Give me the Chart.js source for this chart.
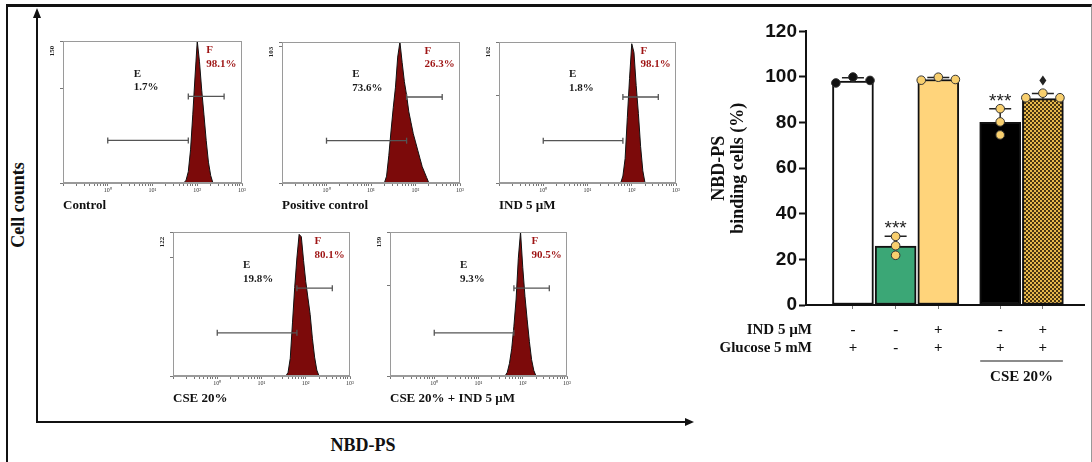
<!DOCTYPE html>
<html>
<head>
<meta charset="utf-8">
<script src="https://cdn.jsdelivr.net/npm/chart.js@4.4.0/dist/chart.umd.min.js"></script>
<style>
  body { margin: 0; width: 1092px; height: 462px; position: relative; overflow: hidden; background: #fff; }
  .frame { position: absolute; left: 6px; top: 4px; width: 1083px; height: 480px;
           border-top: 3px solid #111; border-left: 2px solid #111; border-right: 1px solid #999; }
  canvas { position: absolute; }
  svg { position: absolute; left: 0; top: 0; }
</style>
</head>
<body>
<div class="frame"></div>
<svg width="1092" height="462">
  <line x1="37" y1="423" x2="37" y2="16" stroke="#111" stroke-width="2"/>
  <polygon points="33,18 41,18 37,8" fill="#111"/>
  <line x1="36" y1="422" x2="686" y2="422" stroke="#111" stroke-width="2"/>
  <polygon points="685,418 685,426 694,422" fill="#111"/>
  <text x="18" y="205" transform="rotate(-90 18 205)" text-anchor="middle" dominant-baseline="central"
        font-family="Liberation Serif" font-weight="bold" font-size="18" fill="#111">Cell counts</text>
  <text x="363" y="445" text-anchor="middle" dominant-baseline="central"
        font-family="Liberation Serif" font-weight="bold" font-size="18" fill="#111">NBD-PS</text>
</svg>
<script>
// ---- flow cytometry histograms (x = log10 fluorescence) ----
const binLog = [1.25, 1.30, 1.35, 1.40, 1.45, 1.50, 1.55, 1.60, 1.65, 1.70, 1.75, 1.80,
                1.85, 1.90, 1.95, 2.00, 2.05, 2.10, 2.15, 2.20, 2.25, 2.30, 2.35, 2.40];
const ctrlCount   = [0, 0, 0, 0, 0, 0, 0, 0, 0, 0, 3, 12, 35, 72, 112, 150, 128, 98, 72, 45, 22, 8, 0, 0];
const posCount    = [0, 0, 5, 20, 38, 55, 70, 92, 103, 88, 74, 64, 52, 44, 36, 30, 24, 18, 12, 8, 4, 0, 0, 0];
const indCount    = [0, 0, 0, 0, 0, 0, 0, 0, 0, 0, 0, 8, 28, 75, 120, 160, 150, 112, 80, 42, 14, 0, 0, 0];
const cseCount    = [0, 0, 0, 0, 0, 0, 0, 3, 15, 45, 75, 100, 120, 118, 98, 80, 66, 52, 32, 16, 5, 0, 0, 0];
const cseIndCount = [0, 0, 0, 0, 0, 0, 0, 0, 4, 14, 30, 55, 85, 130, 159, 120, 88, 62, 38, 18, 6, 0, 0, 0];

const histLabels = ['Control', 'Positive control', 'IND 5 µM', 'CSE 20%', 'CSE 20% + IND 5 µM'];
const histMax = [150, 103, 162, 122, 159];
const ePct = ['1.7%', '73.6%', '1.8%', '19.8%', '9.3%'];
const fPct = ['98.1%', '26.3%', '98.1%', '80.1%', '90.5%'];
const gateE = [0, 1.8];
const gateF = [1.8, 2.6];
const decades = [0, 1, 2, 3];

// ---- bar chart ----
const barPos = [1, 2, 3, 4.45, 5.45];
const barMeans = [98.2, 25.8, 98.9, 80.1, 90.5];
const barErr = [1.5, 4.3, 0.9, 6.0, 2.3];
const barDots = [[97.4, 100.0, 98.5], [30.1, 26.0, 21.8], [98.6, 99.9, 98.9], [86.1, 80.3, 74.6], [90.9, 92.9, 90.9]];
const indRow = ['-', '-', '+', '-', '+'];
const gluRow = ['+', '-', '+', '+', '+'];
const sigMarks = ['', '***', '', '***', 'diamond'];
const yTickVals = [0, 20, 40, 60, 80, 100, 120];

const SERIF = '"Liberation Serif", "Times New Roman", serif';
const SANS = '"Liberation Sans", Arial, sans-serif';

// histogram panel boxes (plot area: left, top, width, height)
const boxes = [[63, 41, 179, 142], [282, 42, 178, 141], [499, 42, 177, 141], [173, 232, 177, 144], [390, 232, 177, 144]];
const countSets = [ctrlCount, posCount, indCount, cseCount, cseIndCount];

const supDigits = ['⁰', '¹', '²', '³'];
const logTicks = [];
for (let d = -1; d < 3; d++) {
    for (let k = 1; k < 10; k++) logTicks.push(d + Math.log10(k));
}
logTicks.push(3);

const histDeco = {
    id: 'histDeco',
    afterDraw(chart, args, o) {
        const { ctx, chartArea: a, scales: { x, y } } = chart;
        ctx.save();
        ctx.strokeStyle = '#9a9a9a';
        ctx.lineWidth = 1;
        ctx.strokeRect(a.left + 0.5, a.top + 0.5, a.right - a.left - 1, a.bottom - a.top - 1);

        // max count label, rotated
        ctx.save();
        ctx.translate(a.left - 11, a.top + 10);
        ctx.rotate(-Math.PI / 2);
        ctx.font = 'bold 7px ' + SERIF;
        ctx.fillStyle = '#222';
        ctx.textAlign = 'center';
        ctx.textBaseline = 'middle';
        ctx.fillText(String(o.max), 0, 0);
        ctx.restore();

        ctx.font = 'bold 11px ' + SERIF;
        ctx.textAlign = 'left';
        ctx.textBaseline = 'middle';
        ctx.fillStyle = '#1a1a1a';
        const ex = x.getPixelForValue(0.58);
        ctx.fillText('E', ex, y.getPixelForValue(o.max * 0.77));
        ctx.fillText(o.e, ex, y.getPixelForValue(o.max * 0.675));
        ctx.fillStyle = '#9e1414';
        const fx = x.getPixelForValue(2.2);
        ctx.fillText('F', fx, y.getPixelForValue(o.max * 0.935));
        ctx.fillText(o.f, fx, y.getPixelForValue(o.max * 0.84));
        ctx.restore();
    }
};

function makeHist(i) {
    const [bx, by, bw, bh] = boxes[i];
    const padL = 22, padT = 6, padR = 8, padB = 30;
    const cv = document.createElement('canvas');
    cv.width = padL + bw + padR;
    cv.height = padT + bh + padB;
    cv.style.left = (bx - padL) + 'px';
    cv.style.top = (by - padT) + 'px';
    document.body.appendChild(cv);

    const max = histMax[i];
    const eY = max * 0.30, fY = max * 0.61;
    const gateStyle = {
        borderColor: '#555', borderWidth: 1.3, fill: false,
        pointStyle: 'line', pointRotation: 90, pointRadius: 3,
        pointBorderColor: '#555', pointBorderWidth: 1.3, order: 0
    };

    new Chart(cv, {
        type: 'line',
        data: {
            datasets: [
                {
                    data: binLog.map((v, j) => ({ x: v, y: countSets[i][j] })),
                    fill: 'origin', backgroundColor: '#7c0a0a', borderColor: '#111', borderWidth: 1,
                    pointRadius: 0, tension: 0, order: 1
                },
                { ...gateStyle, data: gateE.map(v => ({ x: v, y: eY })) },
                { ...gateStyle, data: gateF.map(v => ({ x: v, y: fY })) }
            ]
        },
        options: {
            responsive: false,
            animation: false,
            events: [],
            layout: { padding: { top: padT, right: padR, left: 0, bottom: 0 } },
            plugins: {
                legend: { display: false },
                tooltip: { enabled: false },
                histDeco: { max: max, e: ePct[i], f: fPct[i] }
            },
            scales: {
                x: {
                    type: 'linear', min: -1, max: 3,
                    afterFit(s) { s.height = padB; },
                    afterBuildTicks(s) { s.ticks = logTicks.map(v => ({ value: v })); },
                    ticks: {
                        autoSkip: false, maxRotation: 0, minRotation: 0, padding: 1,
                        color: '#333', font: { family: SERIF, size: 6 },
                        callback(v) {
                            const d = decades.find(k => Math.abs(k - v) < 1e-6);
                            return d === undefined ? '' : '10' + supDigits[d];
                        }
                    },
                    grid: { drawOnChartArea: false, tickLength: 3, color: '#777' },
                    border: { color: '#9a9a9a', width: 1 },
                    title: {
                        display: true, text: histLabels[i], align: 'start', padding: 0,
                        color: '#111', font: { family: SERIF, size: 13, weight: 'bold' }
                    }
                },
                y: {
                    min: 0, max: max,
                    afterFit(s) { s.width = padL; },
                    afterBuildTicks(s) { s.ticks = [0, 100, max].map(v => ({ value: v })); },
                    ticks: { display: false },
                    grid: { drawOnChartArea: false, tickLength: 3, color: '#777' },
                    border: { color: '#9a9a9a', width: 1 }
                }
            }
        },
        plugins: [histDeco]
    });
}

for (let i = 0; i < 5; i++) makeHist(i);

// ---- bar chart ----
function checkerPattern() {
    const p = document.createElement('canvas');
    p.width = 4; p.height = 4;
    const c = p.getContext('2d');
    c.fillStyle = '#e8b94c';
    c.fillRect(0, 0, 4, 4);
    c.fillStyle = '#4a3612';
    c.fillRect(0, 0, 2, 2);
    c.fillRect(2, 2, 2, 2);
    return document.createElement('canvas').getContext('2d').createPattern(p, 'repeat');
}

const barColors = ['#ffffff', '#3ba776', '#ffd47b', '#000000', checkerPattern()];
const dotJitter = [[-0.4, 0, 0.4], [0, 0, 0], [-0.4, 0, 0.4], [0, 0, 0], [-0.4, 0, 0.4]];

const dotData = [], dotFill = [];
barDots.forEach((vals, i) => {
    vals.forEach((v, j) => {
        dotData.push({ x: barPos[i] + dotJitter[i][j], y: v });
        dotFill.push(i === 0 ? '#111111' : '#f8cf6e');
    });
});

const barDeco = {
    id: 'barDeco',
    afterDatasetDraw(chart, args) {
        if (args.index !== 0) return;
        const { ctx, scales: { x, y } } = chart;
        ctx.save();
        ctx.strokeStyle = '#222';
        ctx.lineWidth = 1.5;
        barPos.forEach((p, i) => {
            const cx = x.getPixelForValue(p);
            const y0 = y.getPixelForValue(barMeans[i]);
            const y1 = y.getPixelForValue(barMeans[i] + barErr[i]);
            ctx.beginPath();
            ctx.moveTo(cx, y0);
            ctx.lineTo(cx, y1);
            ctx.moveTo(cx - 11, y1);
            ctx.lineTo(cx + 11, y1);
            ctx.stroke();
        });
        ctx.restore();
    },
    afterDraw(chart) {
        const { ctx, scales: { x, y } } = chart;
        ctx.save();
        ctx.fillStyle = '#222';
        barPos.forEach((p, i) => {
            const cx = x.getPixelForValue(p);
            const cy = y.getPixelForValue(barMeans[i] + barErr[i]) - 13;
            if (sigMarks[i] === '***') {
                ctx.font = '19px ' + SANS;
                ctx.textAlign = 'center';
                ctx.textBaseline = 'alphabetic';
                ctx.fillText('***', cx, cy + 11);
            } else if (sigMarks[i] === 'diamond') {
                ctx.beginPath();
                ctx.moveTo(cx, cy - 5);
                ctx.lineTo(cx + 3.5, cy);
                ctx.lineTo(cx, cy + 5);
                ctx.lineTo(cx - 3.5, cy);
                ctx.closePath();
                ctx.fill();
            }
        });

        // row labels of the treatment table
        ctx.fillStyle = '#111';
        ctx.font = 'bold 15px ' + SERIF;
        ctx.textAlign = 'right';
        ctx.textBaseline = 'middle';
        const lx = x.left + 6;
        ctx.fillText('IND 5 µM', lx, y.bottom + 25);
        ctx.fillText('Glucose 5 mM', lx, y.bottom + 43);

        // CSE group bracket
        const gx0 = x.getPixelForValue(barPos[3]) - 20;
        const gx1 = x.getPixelForValue(barPos[4]) + 20;
        ctx.strokeStyle = '#666';
        ctx.lineWidth = 1.5;
        ctx.beginPath();
        ctx.moveTo(gx0, y.bottom + 56);
        ctx.lineTo(gx1, y.bottom + 56);
        ctx.stroke();
        ctx.textAlign = 'center';
        ctx.fillText('CSE 20%', (gx0 + gx1) / 2, y.bottom + 72);
        ctx.restore();
    }
};

const bc = document.createElement('canvas');
bc.width = 390; bc.height = 370;
bc.style.left = '700px'; bc.style.top = '18px';
document.body.appendChild(bc);

new Chart(bc, {
    type: 'bar',
    data: {
        datasets: [
            {
                type: 'bar',
                data: barPos.map((p, i) => ({ x: p, y: barMeans[i] })),
                backgroundColor: barColors,
                borderColor: '#111',
                borderWidth: 2,
                borderSkipped: false,
                barThickness: 41,
                order: 1
            },
            {
                type: 'scatter',
                data: dotData,
                pointRadius: 4.3,
                pointBackgroundColor: dotFill,
                pointBorderColor: '#333',
                pointBorderWidth: 1,
                order: 0
            }
        ]
    },
    options: {
        responsive: false,
        animation: false,
        events: [],
        layout: { padding: { top: 12, right: 3, left: 0, bottom: 0 } },
        plugins: { legend: { display: false }, tooltip: { enabled: false } },
        scales: {
            x: {
                type: 'linear', min: -0.1, max: 6.43, offset: false,
                afterFit(s) { s.height = 83; },
                afterBuildTicks(s) { s.ticks = barPos.map(v => ({ value: v })); },
                ticks: {
                    autoSkip: false, maxRotation: 0, minRotation: 0, padding: 12,
                    color: '#111',
                    font: { family: SERIF, size: 15, weight: 'bold', lineHeight: 1.2 },
                    callback(v, i) { return [indRow[i], gluRow[i]]; }
                },
                grid: { drawOnChartArea: false, offset: false, tickLength: 4, color: '#777' },
                border: { color: '#111', width: 2 }
            },
            y: {
                min: 0, max: 120,
                afterFit(s) { s.width = 106; },
                afterBuildTicks(s) { s.ticks = yTickVals.map(v => ({ value: v })); },
                ticks: { padding: 2, color: '#111', font: { family: SANS, size: 19, weight: 'bold' } },
                grid: { drawOnChartArea: false, tickLength: 7, tickWidth: 2, color: '#111' },
                border: { color: '#111', width: 2 },
                title: {
                    display: true,
                    text: ['NBD-PS', 'binding cells (%)'],
                    padding: { top: 10, bottom: 0 },
                    color: '#111',
                    font: { family: SERIF, size: 18, weight: 'bold', lineHeight: 1.05 }
                }
            }
        }
    },
    plugins: [barDeco]
});
</script>
</body>
</html>
